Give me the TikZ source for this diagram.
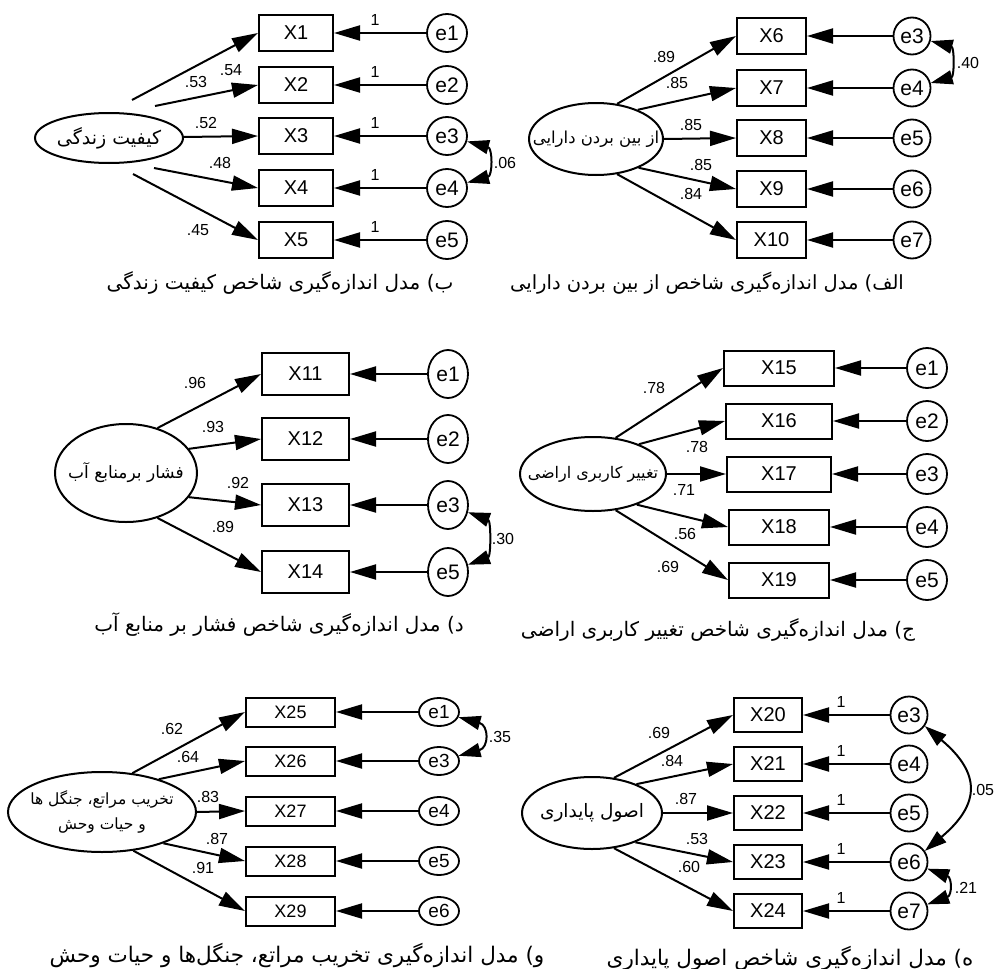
\documentclass[tikz,border=0pt]{standalone}
\usepackage{fontspec}
\setmainfont{Liberation Sans}
\newfontfamily\farsi[Script=Arabic]{DejaVu Sans}
\TeXXeTstate=1
\usepackage{tikz}
\usetikzlibrary{shapes.geometric}
\usetikzlibrary{arrows.meta}
\pgfdeclarelayer{nodelayer}
\pgfdeclarelayer{edgelayer}
\pgfsetlayers{nodelayer,edgelayer,main}
\newcommand{\fa}[1]{\beginR #1\endR}
\newcommand{\fabox}[1]{\makebox[0pt]{\beginR #1\endR}}

\begin{document}
\begin{tikzpicture}[x=1pt, y=1pt,
    latent/.style={ellipse, draw, line width=2pt, inner sep=0pt},
    indic/.style={rectangle, draw, line width=2pt, inner sep=0pt, font=\fontsize{20}{24}\selectfont},
    resid/.style={ellipse, draw, line width=1.8pt, inner sep=0pt, font=\fontsize{21}{24}\selectfont},
    coef/.style={inner sep=0pt, font=\fontsize{16}{18}\selectfont},
    capt/.style={inner sep=0pt, font=\farsi\fontsize{20}{24}\selectfont},
    load/.style={line width=2pt, -{Triangle[length=26pt, width=15pt]}},
    covar/.style={line width=2pt, {Triangle[length=22pt, width=14pt]}-{Triangle[length=22pt, width=14pt]}}]
  \useasboundingbox (0,0) rectangle (994,-969);
  \begin{pgfonlayer}{nodelayer}
    % b) quality of life
    \node [latent, minimum width=148pt, minimum height=50pt, font=\farsi\fontsize{19}{22}\selectfont] (0) at (109,-138) {\fabox{کیفیت زندگی}};
    \node [indic, minimum width=74pt, minimum height=36pt] (1) at (296,-33) {X1};
    \node [indic, minimum width=74pt, minimum height=36pt] (2) at (296,-85) {X2};
    \node [indic, minimum width=74pt, minimum height=36pt] (3) at (296,-136) {X3};
    \node [indic, minimum width=74pt, minimum height=36pt] (4) at (296,-188) {X4};
    \node [indic, minimum width=74pt, minimum height=36pt] (5) at (296,-240) {X5};
    \node [resid, minimum width=40pt, minimum height=38pt] (6) at (447,-33) {e1};
    \node [resid, minimum width=40pt, minimum height=38pt] (7) at (447,-85) {e2};
    \node [resid, minimum width=40pt, minimum height=38pt] (8) at (447,-136) {e3};
    \node [resid, minimum width=40pt, minimum height=38pt] (9) at (447,-188) {e4};
    \node [resid, minimum width=40pt, minimum height=38pt] (10) at (447,-240) {e5};
    \node [coef] (11) at (196,-82) {.53};
    \node [coef] (12) at (231,-70) {.54};
    \node [coef] (13) at (206,-123) {.52};
    \node [coef] (14) at (220,-163) {.48};
    \node [coef] (15) at (198,-230) {.45};
    \node [coef] (16) at (375,-20) {1};
    \node [coef] (17) at (375,-72) {1};
    \node [coef] (18) at (375,-123) {1};
    \node [coef] (19) at (375,-175) {1};
    \node [coef] (20) at (375,-227) {1};
    \node [coef] (21) at (505,-163) {.06};
    \node [capt] (23) at (280,-283) {\fa{ب) مدل اندازه‌گیری شاخص کیفیت زندگی}};
    \coordinate (24) at (132,-100);
    \coordinate (25) at (155,-106);
    \coordinate (26) at (154,-168);
    \coordinate (27) at (133,-174);
    % alef) loss of assets
    \node [latent, minimum width=134pt, minimum height=72pt, font=\farsi\fontsize{16.5}{20}\selectfont] (30) at (596,-139) {\fabox{از بین بردن دارایی}};
    \node [indic, minimum width=69pt, minimum height=36pt] (31) at (771.5,-36) {X6};
    \node [indic, minimum width=69pt, minimum height=36pt] (32) at (771.5,-88) {X7};
    \node [indic, minimum width=69pt, minimum height=36pt] (33) at (771.5,-138) {X8};
    \node [indic, minimum width=69pt, minimum height=36pt] (34) at (771.5,-189) {X9};
    \node [indic, minimum width=69pt, minimum height=36pt] (35) at (771.5,-240) {X10};
    \node [resid, minimum size=37pt] (36) at (912,-36) {e3};
    \node [resid, minimum size=37pt] (37) at (912,-88) {e4};
    \node [resid, minimum size=37pt] (38) at (912,-138) {e5};
    \node [resid, minimum size=37pt] (39) at (912,-189) {e6};
    \node [resid, minimum size=37pt] (40) at (912,-240) {e7};
    \node [coef] (41) at (664,-57) {.89};
    \node [coef] (42) at (677,-83) {.85};
    \node [coef] (43) at (691,-125) {.85};
    \node [coef] (44) at (701,-165) {.85};
    \node [coef] (45) at (691,-194) {.84};
    \node [coef] (51) at (968,-63) {.40};
    \node [capt, font=\farsi\fontsize{19.5}{24}\selectfont] (53) at (707,-283) {\fa{الف) مدل اندازه‌گیری شاخص از بین بردن دارایی}};
    % d) pressure on water resources
    \node [latent, minimum width=142pt, minimum height=98pt, font=\farsi\fontsize{17}{20}\selectfont] (60) at (126,-473) {\fabox{فشار برمنابع آب}};
    \node [indic, minimum width=87pt, minimum height=42pt] (61) at (305.5,-374) {X11};
    \node [indic, minimum width=87pt, minimum height=42pt] (62) at (305.5,-439) {X12};
    \node [indic, minimum width=87pt, minimum height=42pt] (63) at (305.5,-505) {X13};
    \node [indic, minimum width=87pt, minimum height=42pt] (64) at (305.5,-572) {X14};
    \node [resid, minimum width=40pt, minimum height=48pt] (66) at (448,-374) {e1};
    \node [resid, minimum width=40pt, minimum height=48pt] (67) at (448,-439) {e2};
    \node [resid, minimum width=40pt, minimum height=48pt] (68) at (448,-505) {e3};
    \node [resid, minimum width=40pt, minimum height=48pt] (69) at (448,-572) {e5};
    \node [coef] (71) at (195,-383) {.96};
    \node [coef] (72) at (213,-427) {.93};
    \node [coef] (73) at (238,-483) {.92};
    \node [coef] (74) at (223,-527) {.89};
    \node [coef] (81) at (503,-539) {.30};
    \node [capt] (83) at (279,-625) {\fa{د) مدل اندازه‌گیری شاخص فشار بر منابع آب}};
    % j) land use change
    \node [latent, minimum width=146pt, minimum height=74pt, font=\farsi\fontsize{16}{19}\selectfont] (90) at (593,-474) {\fabox{تغییر کاربری اراضی}};
    \node [indic, minimum width=110pt, minimum height=35pt] (91) at (779,-368) {X15};
    \node [indic, minimum width=106pt, minimum height=35pt] (92) at (779,-421) {X16};
    \node [indic, minimum width=104pt, minimum height=35pt] (93) at (779,-474) {X17};
    \node [indic, minimum width=100pt, minimum height=35pt] (94) at (779,-527) {X18};
    \node [indic, minimum width=100pt, minimum height=35pt] (95) at (779,-580) {X19};
    \node [resid, minimum size=40pt] (96) at (927,-368) {e1};
    \node [resid, minimum size=40pt] (97) at (927,-421) {e2};
    \node [resid, minimum size=40pt] (98) at (927,-474) {e3};
    \node [resid, minimum size=40pt] (99) at (927,-527) {e4};
    \node [resid, minimum size=40pt] (100) at (927,-580) {e5};
    \node [coef] (101) at (654,-388) {.78};
    \node [coef] (102) at (697,-447) {.78};
    \node [coef] (103) at (684,-490) {.71};
    \node [coef] (104) at (685,-534) {.56};
    \node [coef] (105) at (668,-567) {.69};
    \node [capt] (113) at (718,-630) {\fa{ج) مدل اندازه‌گیری شاخص تغییر کاربری اراضی}};
    % v) degradation of rangelands, forests and wildlife
    \node [latent, minimum width=188pt, minimum height=80pt, align=center, font=\farsi\fontsize{15.5}{25}\selectfont] (120) at (102,-812) {\fabox{تخریب مراتع، جنگل ها}\\\fabox{و حیات وحش}};
    \node [indic, minimum width=89pt, minimum height=29pt, font=\fontsize{18}{20}\selectfont] (121) at (290.5,-712) {X25};
    \node [indic, minimum width=89pt, minimum height=29pt, font=\fontsize{18}{20}\selectfont] (122) at (290.5,-761) {X26};
    \node [indic, minimum width=89pt, minimum height=29pt, font=\fontsize{18}{20}\selectfont] (123) at (290.5,-811) {X27};
    \node [indic, minimum width=89pt, minimum height=29pt, font=\fontsize{18}{20}\selectfont] (124) at (290.5,-861) {X28};
    \node [indic, minimum width=89pt, minimum height=29pt, font=\fontsize{18}{20}\selectfont] (125) at (290.5,-911) {X29};
    \node [resid, minimum width=40pt, minimum height=28pt, font=\fontsize{19}{20}\selectfont] (126) at (439,-712) {e1};
    \node [resid, minimum width=40pt, minimum height=28pt, font=\fontsize{19}{20}\selectfont] (127) at (439,-761) {e3};
    \node [resid, minimum width=40pt, minimum height=28pt, font=\fontsize{19}{20}\selectfont] (128) at (439,-811) {e4};
    \node [resid, minimum width=40pt, minimum height=28pt, font=\fontsize{19}{20}\selectfont] (129) at (439,-861) {e5};
    \node [resid, minimum width=40pt, minimum height=28pt, font=\fontsize{19}{20}\selectfont] (130) at (439,-911) {e6};
    \node [coef] (131) at (172,-729) {.62};
    \node [coef] (132) at (188,-757) {.64};
    \node [coef] (133) at (208,-797) {.83};
    \node [coef] (134) at (217,-839) {.87};
    \node [coef] (135) at (203,-868) {.91};
    \node [coef] (141) at (500,-737) {.35};
    \node [capt, font=\farsi\fontsize{21.5}{24}\selectfont] (143) at (297,-955) {\fa{و) مدل اندازه‌گیری تخریب مراتع، جنگل‌ها و حیات وحش}};
    % h) principles of sustainability
    \node [latent, minimum width=140pt, minimum height=72pt, font=\farsi\fontsize{18.5}{22}\selectfont] (150) at (592,-813) {\fabox{اصول پایداری}};
    \node [indic, minimum width=68pt, minimum height=34pt] (151) at (768,-715) {X20};
    \node [indic, minimum width=68pt, minimum height=34pt] (152) at (768,-764) {X21};
    \node [indic, minimum width=68pt, minimum height=34pt] (153) at (768,-813) {X22};
    \node [indic, minimum width=68pt, minimum height=34pt] (154) at (768,-862) {X23};
    \node [indic, minimum width=68pt, minimum height=34pt] (155) at (768,-911) {X24};
    \node [resid, minimum size=37pt] (156) at (909,-715) {e3};
    \node [resid, minimum size=37pt] (157) at (909,-764) {e4};
    \node [resid, minimum size=37pt] (158) at (909,-813) {e5};
    \node [resid, minimum size=37pt] (159) at (909,-862) {e6};
    \node [resid, minimum size=37pt] (160) at (909,-911) {e7};
    \node [coef] (161) at (659,-733) {.69};
    \node [coef] (162) at (672,-761) {.84};
    \node [coef] (163) at (686,-799) {.87};
    \node [coef] (164) at (697,-839) {.53};
    \node [coef] (165) at (689,-867) {.60};
    \node [coef] (166) at (841,-702) {1};
    \node [coef] (167) at (841,-751) {1};
    \node [coef] (168) at (841,-800) {1};
    \node [coef] (169) at (841,-849) {1};
    \node [coef] (170) at (841,-898) {1};
    \node [coef] (171) at (983,-790) {.05};
    \node [coef] (172) at (966,-888) {.21};
    \node [capt, font=\farsi\fontsize{21.5}{24}\selectfont] (173) at (790,-958) {\fa{ه) مدل اندازه‌گیری شاخص اصول پایداری}};
  \end{pgfonlayer}
  \begin{pgfonlayer}{edgelayer}
    \draw [load] (24) to (1.west);
    \draw [load] (25) to (2.west);
    \draw [load] (0) to (3.west);
    \draw [load] (26) to (4.west);
    \draw [load] (27) to (5.west);
    \draw [load] (6) to (1);
    \draw [load] (7) to (2);
    \draw [load] (8) to (3);
    \draw [load] (9) to (4);
    \draw [load] (10) to (5);
    \draw [covar] (8.-15) to [out=-15, in=15, looseness=1.65] (9.15);
    \draw [load] (30.59) to (31.west);
    \draw [load] (30.35) to (32.west);
    \draw [load] (30.0) to (33.west);
    \draw [load] (30.-34) to (34.west);
    \draw [load] (30.-59) to (35.west);
    \draw [load] (36) to (31);
    \draw [load] (37) to (32);
    \draw [load] (38) to (33);
    \draw [load] (39) to (34);
    \draw [load] (40) to (35);
    \draw [covar] (36.-15) to [out=-15, in=15, looseness=1.5] (37.15);
    \draw [load] (60.55) to (61.west);
    \draw [load] (60.21) to (62.west);
    \draw [load] (60.-21) to (63.west);
    \draw [load] (60.-55) to (64.west);
    \draw [load] (66) to (61);
    \draw [load] (67) to (62);
    \draw [load] (68) to (63);
    \draw [load] (69) to (64);
    \draw [covar] (68.-20) to [out=-20, in=20, looseness=1.2] (69.20);
    \draw [load] (90.58) to (91.west);
    \draw [load] (90.33) to (92.west);
    \draw [load] (90.0) to (93.west);
    \draw [load] (90.-35) to (94.west);
    \draw [load] (90.-58) to (95.west);
    \draw [load] (96) to (91);
    \draw [load] (97) to (92);
    \draw [load] (98) to (93);
    \draw [load] (99) to (94);
    \draw [load] (100) to (95);
    \draw [load] (120.52) to (121.west);
    \draw [load] (120.30) to (122.west);
    \draw [load] (120.0) to (123.west);
    \draw [load] (120.-27) to (124.west);
    \draw [load] (120.-51) to (125.west);
    \draw [load] (126) to (121);
    \draw [load] (127) to (122);
    \draw [load] (128) to (123);
    \draw [load] (129) to (124);
    \draw [load] (130) to (125);
    \draw [covar] (126.-15) to [out=-15, in=15, looseness=2.1] (127.15);
    \draw [load] (150.58) to (151.west);
    \draw [load] (150.33) to (152.west);
    \draw [load] (150.0) to (153.west);
    \draw [load] (150.-34) to (154.west);
    \draw [load] (150.-58) to (155.west);
    \draw [load] (156) to (151);
    \draw [load] (157) to (152);
    \draw [load] (158) to (153);
    \draw [load] (159) to (154);
    \draw [load] (160) to (155);
    \draw [covar] (156.-35) to [out=-40, in=40, looseness=1.5] (159.35);
    \draw [covar] (159.-20) to [out=-20, in=20, looseness=1.9] (160.20);
  \end{pgfonlayer}
\end{tikzpicture}
\end{document}
